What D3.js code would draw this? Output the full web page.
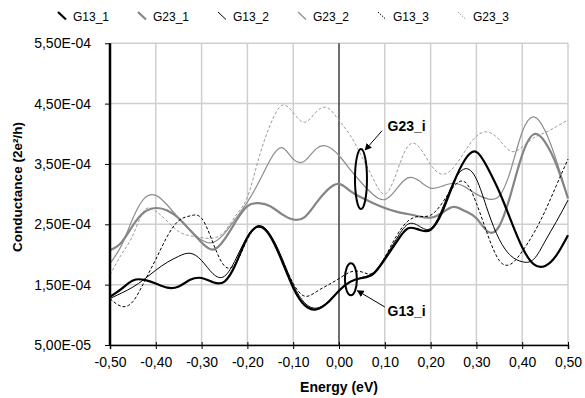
<!DOCTYPE html>
<html><head><meta charset="utf-8">
<script src="https://cdn.jsdelivr.net/npm/d3@7"></script>
<style>
body{margin:0;background:#fff}
svg{display:block}
text{font-family:Arial,"Liberation Sans",sans-serif;fill:#000}
</style>
</head><body>
<svg id="c" width="585" height="398"></svg>
<script>
// Energy (eV)
const energy = [-0.5,-0.475,-0.45,-0.425,-0.4,-0.375,-0.35,-0.325,-0.3,-0.275,-0.25,-0.225,-0.2,-0.175,-0.15,-0.125,-0.1,-0.075,-0.05,-0.025,0,0.025,0.05,0.075,0.1,0.125,0.15,0.175,0.2,0.225,0.25,0.275,0.3,0.325,0.35,0.375,0.4,0.425,0.45,0.475,0.5];
// Conductance in units of 1E-04 (2e²/h)
const G13_1 = [1.30,1.43,1.57,1.58,1.52,1.45,1.47,1.58,1.61,1.54,1.55,1.85,2.28,2.46,2.30,1.90,1.45,1.16,1.09,1.20,1.40,1.55,1.61,1.68,1.92,2.20,2.43,2.41,2.41,2.70,3.18,3.57,3.70,3.43,3.04,2.57,2.12,1.84,1.81,1.99,2.32];
const G23_1 = [2.07,2.20,2.48,2.70,2.77,2.73,2.60,2.40,2.20,2.08,2.25,2.55,2.80,2.85,2.80,2.67,2.58,2.62,2.85,3.07,3.17,3.05,2.94,2.85,2.77,2.71,2.67,2.63,2.61,2.69,2.79,2.72,2.60,2.38,2.47,3.00,3.65,3.99,3.86,3.48,2.93];
const G13_2 = [1.27,1.36,1.46,1.59,1.74,1.87,1.97,2.02,1.90,1.68,1.64,1.93,2.30,2.48,2.33,1.95,1.50,1.20,1.11,1.21,1.40,1.54,1.62,1.70,1.95,2.25,2.50,2.47,2.43,2.75,3.20,3.42,3.25,2.72,2.25,1.98,1.88,1.92,2.22,2.55,2.90];
const G23_2 = [1.85,2.15,2.60,2.93,2.98,2.82,2.60,2.40,2.24,2.20,2.35,2.60,2.87,3.20,3.57,3.77,3.58,3.55,3.75,3.79,3.64,3.40,3.18,2.99,2.91,3.08,3.27,3.22,3.10,3.13,3.18,3.12,3.00,2.92,2.97,3.40,4.03,4.28,4.05,3.55,2.93];
const G13_3 = [1.27,1.14,1.22,1.55,1.92,2.30,2.56,2.64,2.60,2.19,1.81,1.86,2.25,2.47,2.32,1.92,1.52,1.31,1.38,1.49,1.60,1.71,1.71,1.69,1.95,2.30,2.55,2.63,2.65,2.85,3.12,3.20,2.85,2.32,1.90,1.84,2.05,2.35,2.72,3.15,3.58];
const G23_3 = [1.66,2.00,2.32,2.73,2.72,2.55,2.38,2.31,2.28,2.27,2.38,2.65,2.95,3.60,4.15,4.47,4.35,4.19,4.36,4.43,4.22,3.97,3.62,3.25,3.00,3.34,3.79,3.78,3.49,3.33,3.44,3.71,3.96,4.03,3.90,3.71,3.78,3.93,4.02,4.12,4.23];

const seriesNames = ["G13_1","G23_1","G13_2","G23_2","G13_3","G23_3"];
const seriesValues = [G13_1,G23_1,G13_2,G23_2,G13_3,G23_3];

const xTicks = [-0.5,-0.4,-0.3,-0.2,-0.1,0,0.1,0.2,0.3,0.4,0.5];
const xTickLabels = ["-0,50","-0,40","-0,30","-0,20","-0,10","0,00","0,10","0,20","0,30","0,40","0,50"];
const yTicks = [0.5,1.5,2.5,3.5,4.5,5.5];
const yTickLabels = ["5,00E-05","1,50E-04","2,50E-04","3,50E-04","4,50E-04","5,50E-04"];

// annotations
const annoLabels = ["G23_i","G13_i"];
const annoEllipse = [[0.048,3.25],[0.026,1.59]];
const annoArrowFrom = [[0.094,4.05],[0.100,1.13]];
const annoArrowTo = [[0.057,3.73],[0.040,1.40]];
const annoText = [[0.106,4.05],[0.106,0.98]];

// styles (not data)
const styles = {
  G13_1:{stroke:"#000",w:2.2,dash:null},
  G23_1:{stroke:"#858585",w:2.2,dash:null},
  G13_2:{stroke:"#000",w:1,dash:null},
  G23_2:{stroke:"#8c8c8c",w:1.2,dash:null},
  G13_3:{stroke:"#000",w:1,dash:"3,2"},
  G23_3:{stroke:"#9a9a9a",w:1,dash:"3,2"}
};
const annoSize = [[6,30],[6,16]];

const svg = d3.select("#c");
const L=110,R=568,T=43.25,B=345;
const x = d3.scaleLinear().domain([-0.5,0.5]).range([L,R]);
const y = d3.scaleLinear().domain([0.5,5.5]).range([B,T]);

// gridlines
const g = svg.append("g");
g.selectAll(".hg").data(yTicks).join("line")
  .attr("x1",L).attr("x2",R).attr("y1",d=>y(d)).attr("y2",d=>y(d))
  .attr("stroke","#cfcfcf").attr("stroke-width",1.5);
g.selectAll(".vg").data(xTicks).join("line")
  .attr("y1",T).attr("y2",B).attr("x1",d=>x(d)).attr("x2",d=>x(d))
  .attr("stroke","#cfcfcf").attr("stroke-width",1.5);
// zero line
svg.append("line").attr("x1",x(0)).attr("x2",x(0)).attr("y1",T).attr("y2",B)
  .attr("stroke","#000").attr("stroke-width",1);

// curves
const line = d3.line().x(d=>x(d[0])).y(d=>y(d[1])).curve(d3.curveNatural);
const drawOrder = [5,3,1,4,2,0];
drawOrder.forEach(i=>{
  const name = seriesNames[i], st = styles[name];
  const pts = energy.map((e,j)=>[e,seriesValues[i][j]]);
  svg.append("path").attr("d",line(pts)).attr("fill","none")
    .attr("stroke",st.stroke).attr("stroke-width",st.w)
    .attr("stroke-dasharray",st.dash).attr("stroke-linejoin","round");
});

// axes
const xAxis = d3.axisBottom(x).tickValues(xTicks).tickFormat((d,i)=>xTickLabels[i]).tickSize(4).tickPadding(8);
const xg = svg.append("g").attr("transform",`translate(0,${B})`).call(xAxis);
xg.select(".domain").attr("stroke","#000").attr("stroke-width",1.5);
xg.selectAll(".tick line").attr("y1",-3).attr("stroke-width",1);
xg.selectAll("text").attr("font-size",14).attr("font-family",'Arial,"Liberation Sans",sans-serif').attr("dy","0.7em");

const yAxis = d3.axisLeft(y).tickValues(yTicks).tickFormat((d,i)=>yTickLabels[i]).tickSize(5).tickPadding(14);
const yg = svg.append("g").attr("transform",`translate(${L},0)`).call(yAxis);
yg.select(".domain").attr("stroke","#000").attr("stroke-width",2.5).attr("d",`M0,${T}V${B}`);
yg.selectAll("text").attr("font-size",14).attr("font-family",'Arial,"Liberation Sans",sans-serif');

// axis titles
svg.append("text").attr("x",339).attr("y",392).attr("text-anchor","middle")
  .attr("font-size",14).attr("font-weight","bold").text("Energy (eV)");
svg.append("text").attr("transform","translate(22,187) rotate(-90)").attr("text-anchor","middle")
  .attr("font-size",13.5).attr("font-weight","bold").text("Conductance (2e²/h)");

// legend
const lg = svg.append("g");
seriesNames.forEach((n,i)=>{
  const st = styles[n], x0 = 58 + 80*i;
  lg.append("line").attr("x1",x0).attr("y1",12).attr("x2",x0+8).attr("y2",19.5)
    .attr("stroke",st.stroke).attr("stroke-width",st.w).attr("stroke-dasharray",st.dash?"1.5,1.2":null);
  lg.append("text").attr("x",x0+15).attr("y",20.5).attr("font-size",12).text(n);
});

// annotations
const defs = svg.append("defs");
defs.append("marker").attr("id","ah").attr("viewBox","0 0 10 10").attr("refX",9).attr("refY",5)
  .attr("markerWidth",7).attr("markerHeight",7).attr("orient","auto")
  .append("path").attr("d","M0,0L10,5L0,10z").attr("fill","#000");
annoLabels.forEach((lab,i)=>{
  svg.append("ellipse").attr("cx",x(annoEllipse[i][0])).attr("cy",y(annoEllipse[i][1]))
    .attr("rx",annoSize[i][0]).attr("ry",annoSize[i][1])
    .attr("fill","none").attr("stroke","#000").attr("stroke-width",2);
  svg.append("line").attr("x1",x(annoArrowFrom[i][0])).attr("y1",y(annoArrowFrom[i][1]))
    .attr("x2",x(annoArrowTo[i][0])).attr("y2",y(annoArrowTo[i][1]))
    .attr("stroke","#000").attr("stroke-width",1).attr("marker-end","url(#ah)");
  svg.append("text").attr("x",x(annoText[i][0])).attr("y",y(annoText[i][1]))
    .attr("font-size",14).attr("font-weight","bold").text(lab);
});
</script>
</body></html>
